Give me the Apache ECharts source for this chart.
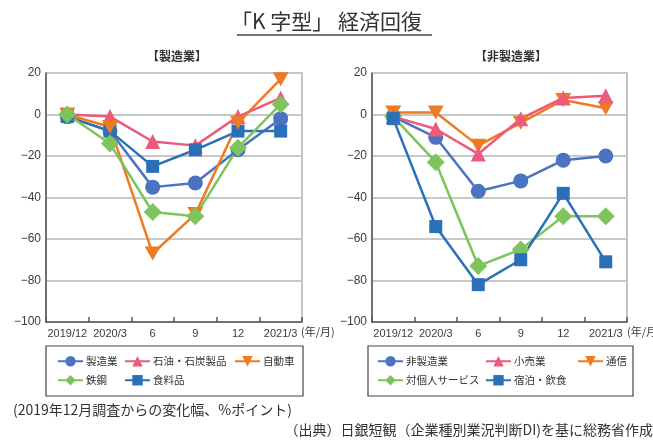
<!DOCTYPE html>
<html>
<head>
<meta charset="utf-8">
<script src="https://cdn.jsdelivr.net/npm/echarts@6/dist/echarts.min.js"></script>
<style>html,body{margin:0;padding:0;background:#fff}#c{width:653px;height:440px}</style>
</head>
<body>
<div id="c"></div>
<script>
// ---- data ----
const categories = ['2019/12', '2020/3', '6', '9', '12', '2021/3'];
const yTicks = [20, 0, -20, -40, -60, -80, -100];

// 製造業 panel
const mfgAll      = [-1, -8, -35, -33, -17, -2];   // 製造業
const petroleum   = [0, -1, -13, -15, -1, 8];      // 石油・石炭製品
const autos       = [0, -6, -67, -48, -4, 17];     // 自動車
const steel       = [0, -14, -47, -49, -16, 5];    // 鉄鋼
const food        = [-1, -8, -25, -17, -8, -8];    // 食料品

// 非製造業 panel
const nonMfgAll   = [-1, -11, -37, -32, -22, -20]; // 非製造業
const retail      = [-1, -7, -19, -2, 8, 9];       // 小売業
const telecom     = [1, 1, -15, -4, 7, 3];         // 通信
const personalSvc = [-1, -23, -73, -65, -49, -49]; // 対個人サービス
const hotelFood   = [-2, -54, -82, -70, -38, -71]; // 宿泊・飲食

const C_BLUE = '#4a74c2', C_PINK = '#ec5a7c', C_ORANGE = '#ee7a22', C_GREEN = '#7ec45c', C_SQ = '#2a70b8';
const NUM = '"Liberation Sans Narrow","Liberation Sans",sans-serif';
const JP = '"Noto Sans CJK JP","Noto Sans",sans-serif';

function mkSeries(name, data, color, symbol, size, idx) {
  return {
    name, type: 'line', data, xAxisIndex: idx, yAxisIndex: idx,
    symbol, symbolSize: size, showAllSymbol: true,
    lineStyle: { color, width: 2.5 },
    itemStyle: { color, borderWidth: 0 },
    emphasis: { disabled: true },
    animation: false
  };
}

function mkX(idx) {
  return {
    type: 'category', gridIndex: idx, data: categories, boundaryGap: true,
    axisLine: { show: true, onZero: false, lineStyle: { color: '#555', width: 1.5 } },
    axisTick: { show: true, inside: true, length: 5, alignWithLabel: false, interval: 0, lineStyle: { color: '#555', width: 1.5 } },
    axisLabel: { interval: 0, margin: 6, fontSize: 11, fontFamily: NUM, color: '#3a3a3a', hideOverlap: false },
    splitLine: { show: false }
  };
}
function mkY(idx) {
  return {
    type: 'value', gridIndex: idx, min: -100, max: 20, interval: 20,
    axisLine: { show: true, lineStyle: { color: '#555', width: 1.5 } },
    axisTick: { show: false },
    axisLabel: { margin: 5, fontSize: 12, fontFamily: NUM, color: '#3a3a3a',
      formatter: v => (v < 0 ? '\u2212' + Math.abs(v) : String(v)) },
    splitLine: { show: true, lineStyle: { color: '#c8c8c8', width: 2 } }
  };
}
function mkLegend(name, left, top) {
  return {
    data: [name], left, top, padding: 0, itemWidth: 25, itemHeight: 13, itemGap: 0,
    selectedMode: false,
    textStyle: { fontSize: 10.5, fontFamily: JP, color: '#333', padding: [0, 0, 0, -2] }
  };
}

const chart = echarts.init(document.getElementById('c'), null, { renderer: 'canvas' });
chart.setOption({
  animation: false,
  backgroundColor: '#fff',
  title: [
    { text: '「K 字型」 経済回復', left: 'center', top: 6, textStyle: { fontSize: 21, fontWeight: 'normal', fontFamily: JP, color: '#333' } },
    { text: '【製造業】', left: 172, textAlign: 'center', top: 45, textStyle: { fontSize: 12, fontWeight: 'bold', fontFamily: JP, color: '#333' } },
    { text: '【非製造業】', left: 506, textAlign: 'center', top: 45, textStyle: { fontSize: 12, fontWeight: 'bold', fontFamily: JP, color: '#333' } }
  ],
  grid: [
    { left: 46, top: 73, width: 256, height: 249, show: true, borderColor: '#b0b0b0', borderWidth: 1.5, backgroundColor: 'transparent' },
    { left: 372, top: 73, width: 255, height: 249, show: true, borderColor: '#b0b0b0', borderWidth: 1.5, backgroundColor: 'transparent' }
  ],
  xAxis: [mkX(0), mkX(1)],
  yAxis: [mkY(0), mkY(1)],
  legend: [
    mkLegend('製造業', 57, 356),
    mkLegend('石油・石炭製品', 124, 356),
    mkLegend('自動車', 234, 356),
    mkLegend('鉄鋼', 57, 375),
    mkLegend('食料品', 124, 375),
    mkLegend('非製造業', 377, 356),
    mkLegend('小売業', 485, 356),
    mkLegend('通信', 577, 356),
    mkLegend('対個人サービス', 377, 375),
    mkLegend('宿泊・飲食', 485, 375)
  ],
  series: [
    mkSeries('製造業', mfgAll, C_BLUE, 'circle', 15, 0),
    mkSeries('石油・石炭製品', petroleum, C_PINK, 'triangle', 15, 0),
    mkSeries('食料品', food, C_SQ, 'rect', 13, 0),
    mkSeries('自動車', autos, C_ORANGE, 'path://M0,0 L10,0 L5,9 Z', [16, 14], 0),
    mkSeries('鉄鋼', steel, C_GREEN, 'diamond', 18, 0),

    mkSeries('非製造業', nonMfgAll, C_BLUE, 'circle', 15, 1),
    mkSeries('対個人サービス', personalSvc, C_GREEN, 'diamond', 18, 1),
    mkSeries('通信', telecom, C_ORANGE, 'path://M0,0 L10,0 L5,9 Z', [16, 14], 1),
    mkSeries('小売業', retail, C_PINK, 'triangle', 15, 1),
    mkSeries('宿泊・飲食', hotelFood, C_SQ, 'rect', 13, 1)
  ],
  graphic: [
    { type: 'line', shape: { x1: 237, y1: 35, x2: 432, y2: 35 }, style: { stroke: '#777', lineWidth: 2 } },
    { type: 'text', left: 301, top: 326, style: { text: '(年/月)', font: '11px ' + JP, fill: '#3a3a3a' } },
    { type: 'text', left: 627, top: 326, style: { text: '(年/月)', font: '11px ' + JP, fill: '#3a3a3a' } },
    { type: 'rect', shape: { x: 46, y: 346, width: 257, height: 50 }, style: { fill: 'none', stroke: '#444', lineWidth: 1.2 } },
    { type: 'rect', shape: { x: 368, y: 346, width: 265, height: 50 }, style: { fill: 'none', stroke: '#444', lineWidth: 1.2 } },
    { type: 'text', left: 13, top: 403, style: { text: '(2019年12月調査からの変化幅、%ポイント)', font: '14px ' + JP, fill: '#333' } },
    { type: 'text', right: 0, top: 423, style: { text: '（出典）日銀短観（企業種別業況判断DI)を基に総務省作成', font: '14px ' + JP, fill: '#333' } }
  ]
});
</script>
</body>
</html>
